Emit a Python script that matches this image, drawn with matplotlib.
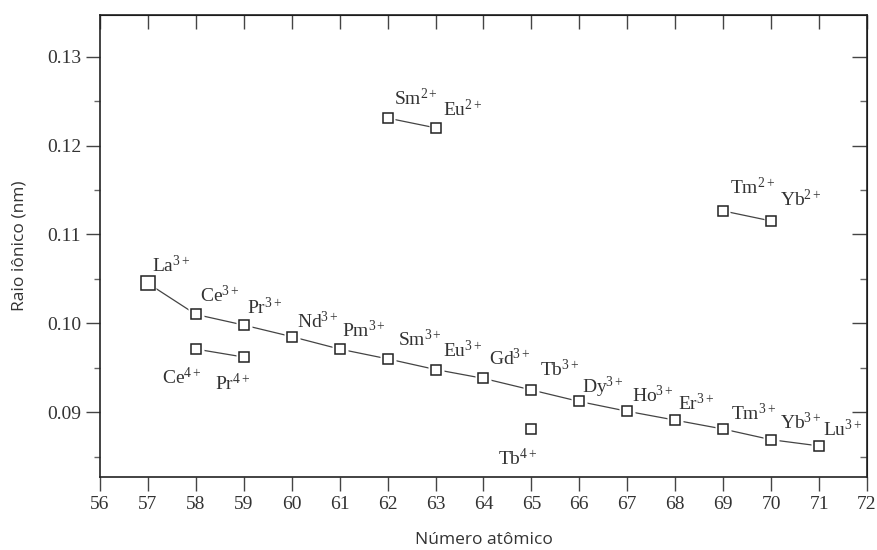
import matplotlib
matplotlib.use("Agg")
import matplotlib.pyplot as plt
from matplotlib.ticker import MultipleLocator

plt.rcParams['mathtext.fontset'] = 'custom'
plt.rcParams['mathtext.rm'] = 'Liberation Serif'
plt.rcParams['mathtext.it'] = 'Liberation Serif:italic'

# ---- data ----
z3 = [57, 58, 59, 60, 61, 62, 63, 64, 65, 66, 67, 68, 69, 70, 71]
r3 = [0.1045, 0.1010, 0.0998, 0.0985, 0.0971, 0.0960, 0.0948, 0.0938,
      0.0925, 0.0912, 0.0901, 0.0891, 0.0881, 0.0869, 0.0862]
lab3 = ["La", "Ce", "Pr", "Nd", "Pm", "Sm", "Eu", "Gd", "Tb", "Dy", "Ho",
        "Er", "Tm", "Yb", "Lu"]

z4 = [58, 59]
r4 = [0.0971, 0.0962]
lab4 = ["Ce", "Pr"]

z4b = [65]
r4b = [0.0881]
lab4b = ["Tb"]

z2a = [62, 63]
r2a = [0.1231, 0.1220]
lab2a = ["Sm", "Eu"]

z2b = [69, 70]
r2b = [0.11265, 0.11152]
lab2b = ["Tm", "Yb"]

xticks = list(range(56, 73))
yticks = [0.09, 0.10, 0.11, 0.12, 0.13]

# ---- label offsets (pixels) ----
off3 = [(23, 18), (24, 19), (21, 18), (26, 15), (24, 19), (32, 19), (27, 19),
        (26, 20), (28, 20), (24, 14), (26, 16), (21, 17), (30, 16), (30, 17),
        (24, 16)]
off4 = [(-14, -28), (-11, -26)]
off4b = [(-14, -29)]
off2a = [(28, 20), (27, 18)]
off2b = [(29, 23), (30, 21)]

fig = plt.figure(figsize=(8.77, 5.5), dpi=100)
ax = fig.add_axes([0.114, 0.1327, 0.8746, 0.84])

ink = "#222222"
txt = "#333333"


def series(z, r, ms):
    ax.plot(z, r, '-', color="#444444", lw=0.9, zorder=1)
    ax.plot(z, r, 's', ms=ms + 3.5, mfc='white', mec='none', zorder=2)
    ax.plot(z, r, 's', ms=ms, mfc='white', mec=ink, mew=1.1, zorder=3)


series(z3, r3, 7.5)
series(z4, r4, 7.5)
series(z4b, r4b, 7.5)
series(z2a, r2a, 6.5)
series(z2b, r2b, 6.5)

# bigger La marker
ax.plot(z3[:1], r3[:1], 's', ms=9.5, mfc='white', mec=ink, mew=1.1, zorder=4)


def labels(z, r, names, charge, offs):
    for zi, ri, n, o in zip(z, r, names, offs):
        ax.annotate(n + r"$^{\mathrm{" + charge + "}}$", (zi, ri),
                    xytext=o, textcoords='offset pixels', ha='center',
                    va='center', fontsize=14, family='Liberation Serif',
                    color=txt, zorder=5)


labels(z3, r3, lab3, "3+", off3)
labels(z4, r4, lab4, "4+", off4)
labels(z4b, r4b, lab4b, "4+", off4b)
labels(z2a, r2a, lab2a, "2+", off2a)
labels(z2b, r2b, lab2b, "2+", off2b)

ax.set_xlim(56, 72)
ax.set_ylim(0.0827, 0.1347)
ax.set_xticks(xticks)
ax.set_xticklabels([str(v) for v in xticks])
ax.set_yticks(yticks)
ax.set_yticklabels([f"{v:.2f}" for v in yticks])
ax.yaxis.set_minor_locator(MultipleLocator(0.005))

for s in ax.spines.values():
    s.set_color(ink)
    s.set_linewidth(1.2)

ax.tick_params(axis='both', which='major', direction='out', length=10,
               width=1, color="#444444", labelsize=14, labelcolor=txt)
ax.tick_params(axis='both', which='minor', direction='out', length=4,
               width=1, color="#666666")
for lbl in ax.get_xticklabels() + ax.get_yticklabels():
    lbl.set_family('Liberation Serif')

# inward ticks on top and right
axt = ax.secondary_xaxis('top')
axt.set_xticks(xticks)
axt.tick_params(direction='in', length=10, width=1, color="#444444",
                labeltop=False)
axr = ax.secondary_yaxis('right')
axr.set_yticks(yticks)
axr.yaxis.set_minor_locator(MultipleLocator(0.005))
axr.tick_params(which='major', direction='in', length=11, width=1,
                color="#444444", labelright=False)
axr.tick_params(which='minor', direction='in', length=5, width=1,
                color="#666666")

ax.set_xlabel("Número atômico", family='Open Sans', fontsize=12.5,
              color=txt, labelpad=14)
ax.set_ylabel("Raio iônico (nm)", family='Open Sans', fontsize=12.5,
              color=txt, labelpad=14)

fig.savefig("out.png", dpi=100)
